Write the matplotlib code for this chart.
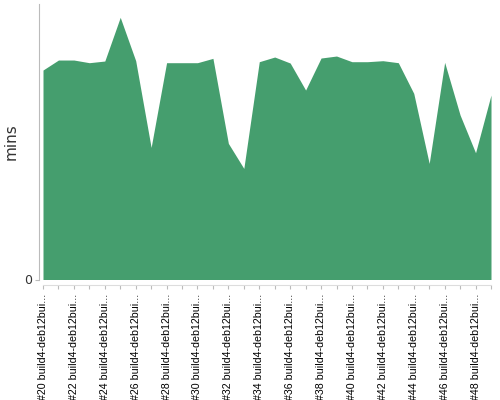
import matplotlib
matplotlib.use("Agg")
import matplotlib.pyplot as plt
import numpy as np

# build numbers and durations (mins)
builds = list(range(20, 50))
labels = ["#%d build4-deb12bui..." % b for b in builds]
mins = [62.8, 65.8, 65.8, 65.0, 65.5, 78.6, 65.6, 39.6, 65.0, 65.0,
        65.0, 66.3, 40.8, 33.3, 65.3, 66.7, 64.9, 56.8, 66.4, 67.0,
        65.3, 65.3, 65.6, 65.0, 55.8, 34.8, 65.1, 49.3, 38.0, 55.3]

green = "#459e6e"

fig = plt.figure(figsize=(5, 4), dpi=100)
ax = fig.add_axes([43 / 500, 1 - 279.5 / 400, 448 / 500, 275.5 / 400])

x = np.arange(len(builds))
ax.fill_between(x, mins, 0, color=green, linewidth=0)
ax.set_xlim(0, len(builds) - 1)
ax.set_ylim(0, 82.6)

ax.set_yticks([0])
ax.set_yticklabels(["0"])
ax.set_xticks(x)
ax.set_xticklabels([l if i % 2 == 0 else "" for i, l in enumerate(labels)])
ax.tick_params(axis="x", length=3, color="#bbbbbb", pad=3, labelrotation=90,
               labelsize=7.7, labelfontfamily="Liberation Sans")
ax.tick_params(axis="y", length=3, color="#bbbbbb", pad=2, labelsize=9,
               labelcolor="#333333")
for t in ax.get_xticklabels():
    t.set_va("top")
    t.set_ha("center")

for s in ["top", "right"]:
    ax.spines[s].set_visible(False)
ax.spines["left"].set_position(("outward", 3))
ax.spines["bottom"].set_position(("outward", 4))
ax.spines["left"].set_color("#bbbbbb")
ax.spines["bottom"].set_color("#dddddd")

ax.set_ylabel("mins", fontsize=11, color="#333333")
ax.yaxis.set_label_coords(-0.054, 0.5)

fig.savefig("out.png", dpi=100)
